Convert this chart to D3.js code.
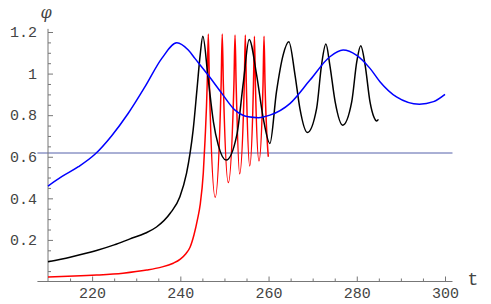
<!DOCTYPE html>
<html lang="en">
<head>
    <meta charset="UTF-8">
    <title>phi(t)</title>
    <script src="https://d3js.org/d3.v7.min.js"></script>
    <style>
        body { margin: 0; background: white; }
        .tick line { stroke: #777; }
        .axis-line { stroke: #777; stroke-width: 1; }
        .curve { fill: none; stroke-width: 1.5; }
    </style>
</head>
<body>
<div id="chart"></div>
<script>
    var w = 491;
    var h = 304;

    // values
    var xTicks = [220, 240, 260, 280, 300];
    var xMinor = [215, 225, 230, 235, 245, 250, 255, 265, 270, 275, 285, 290, 295];
    var yTicks = [0.2, 0.4, 0.6, 0.8, 1, 1.2];
    var yMinor = [0.05, 0.1, 0.15, 0.25, 0.3, 0.35, 0.45, 0.5, 0.55, 0.65, 0.7, 0.75, 0.85, 0.9, 0.95, 1.05, 1.1, 1.15];
    var refLevel = 0.618;

    var blueT = [210, 213.1, 216.9, 220.7, 224.4, 228.2, 232, 235.8, 239.2, 241.8, 243.3, 246.3, 249.4, 252.4, 255.4, 257.7,
                 260.3, 264.9, 269.4, 273.9, 276.9, 279.9, 283, 285.3, 289, 294.2, 297.4, 300];
    var blueV = [0.459, 0.504, 0.552, 0.613, 0.700, 0.809, 0.937, 1.073, 1.148, 1.113, 1.073, 0.993, 0.905, 0.824, 0.792, 0.788,
                 0.800, 0.857, 0.969, 1.081, 1.113, 1.089, 1.025, 0.96, 0.888, 0.853, 0.865, 0.90];

    var blackT = [210, 215, 221, 225, 228.6, 232, 234.6, 237.7, 239.9, 241.4, 242.2, 242.9, 243.8, 244.5, 245.1,
                  246.3, 247.5, 248.6, 250.4, 252.8, 254.3, 255.6, 257.3, 258.8, 260.3, 261.8, 263.3, 264.6,
                  266.0, 267.1, 268.8, 270.9, 272.0, 273.0, 273.9, 275.1, 276.8, 278.85, 280.0, 280.9,
                  281.9, 283.0, 283.9, 284.5, 284.9];
    var blackV = [0.095, 0.117, 0.149, 0.176, 0.205, 0.232, 0.262, 0.328, 0.408, 0.52, 0.616, 0.728, 0.93, 1.09, 1.18,
                  0.977, 0.768, 0.656, 0.584, 0.704, 0.96, 1.164, 0.993, 0.785, 0.664, 0.913, 1.089, 1.153,
                  0.993, 0.833, 0.717, 0.833, 1.04, 1.142, 1.04, 0.864, 0.752, 0.864, 1.057, 1.134,
                  1.04, 0.864, 0.79, 0.772, 0.78];

    var redT = [210, 216, 221, 227, 232.4, 235.5, 238.4, 240, 241.3, 242.2, 243.1, 243.9, 244.5, 245.2, 245.6,
                246.09, 246.34, 246.59, 247.9,
                249.25, 249.5, 249.75, 250.88,
                252.15, 252.4, 252.65, 253.44,
                254.5, 254.73, 254.96, 255.73,
                256.58, 256.8, 257.02, 257.83,
                258.75, 258.97, 259.2, 259.94];
    var redV = [0.022, 0.026, 0.031, 0.04, 0.055, 0.068, 0.088, 0.108, 0.135, 0.165, 0.225, 0.3, 0.37, 0.52, 0.68,
                0.95, 1.19, 0.95, 0.405,
                0.95, 1.19, 0.95, 0.476,
                0.95, 1.185, 0.95, 0.518,
                0.95, 1.185, 0.95, 0.556,
                0.95, 1.18, 0.95, 0.58,
                0.95, 1.18, 0.95, 0.60];

    var xScale = d3.scaleLinear().domain([210, 300]).range([48, 445]);
    var yScale = d3.scaleLinear().domain([0, 1.2]).range([281.5, 32]);

    var svg = d3.select("#chart")
                .append("svg")
                .attr("width", w)
                .attr("height", h);

    // reference level
    svg.append("line")
       .attr("x1", xScale(207.6)).attr("x2", xScale(301.7))
       .attr("y1", yScale(refLevel)).attr("y2", yScale(refLevel))
       .attr("stroke", "#5560aa")
       .attr("stroke-width", 1);

    // axis lines
    svg.append("line").attr("class", "axis-line")
       .attr("x1", xScale(207.6)).attr("x2", xScale(301.7))
       .attr("y1", yScale(0)).attr("y2", yScale(0));
    svg.append("line").attr("class", "axis-line")
       .attr("x1", xScale(210)).attr("x2", xScale(210))
       .attr("y1", yScale(1.215)).attr("y2", yScale(0));

    var xAxis = d3.axisBottom(xScale).tickValues(xTicks).tickSize(-5).tickPadding(6).tickFormat(d3.format("d"));
    var xAxisMinor = d3.axisBottom(xScale).tickValues(xMinor).tickSize(-3).tickFormat("");
    var yAxis = d3.axisLeft(yScale).tickValues(yTicks).tickSize(-5).tickPadding(11)
                  .tickFormat(function(d) { return d === 1 ? "1" : d3.format(".1f")(d); });
    var yAxisMinor = d3.axisLeft(yScale).tickValues(yMinor).tickSize(-3).tickFormat("");

    var axes = [
        svg.append("g").attr("transform", "translate(0," + yScale(0) + ")").call(xAxis),
        svg.append("g").attr("transform", "translate(0," + yScale(0) + ")").call(xAxisMinor),
        svg.append("g").attr("transform", "translate(" + xScale(210) + ",0)").call(yAxis),
        svg.append("g").attr("transform", "translate(" + xScale(210) + ",0)").call(yAxisMinor)
    ];
    axes.forEach(function(g) {
        g.attr("font-family", "Liberation Mono, Courier New, monospace")
         .attr("font-size", 15);
        g.selectAll("text").attr("fill", "#444");
    });
    svg.selectAll(".domain").remove();

    var line = d3.line()
                 .x(function(d) { return xScale(d[0]); })
                 .y(function(d) { return yScale(d[1]); })
                 .curve(d3.curveMonotoneX);

    function drawCurve(ts, vs, colour) {
        svg.append("path")
           .datum(d3.zip(ts, vs))
           .attr("class", "curve")
           .attr("stroke", colour)
           .attr("d", line);
    }

    drawCurve(redT, redV, "#ff0000");
    drawCurve(blackT, blackV, "#000000");
    drawCurve(blueT, blueV, "#0000ff");

    // axis labels
    svg.append("text")
       .attr("x", 46).attr("y", 18)
       .attr("text-anchor", "middle")
       .attr("font-family", "DejaVu Serif, serif")
       .attr("font-style", "italic")
       .attr("font-size", 16)
       .attr("fill", "#444")
       .text("φ");
    svg.append("text")
       .attr("x", 473).attr("y", 285)
       .attr("text-anchor", "middle")
       .attr("font-family", "Liberation Mono, monospace")
       .attr("font-size", 18)
       .attr("fill", "#444")
       .text("t");
</script>
</body>
</html>
